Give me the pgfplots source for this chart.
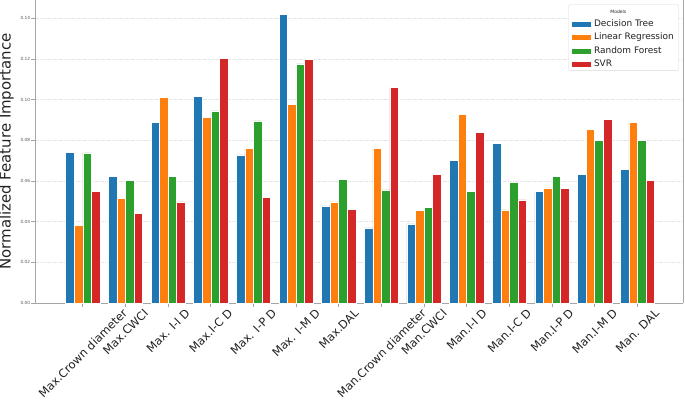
\documentclass[border=0pt]{standalone}
\usepackage{fontspec}
\setmainfont{DejaVu Sans}
\usepackage{graphicx}
\usepackage{pgfplots}
\usepackage{pgfplotstable}
\pgfplotsset{compat=1.18}

\definecolor{tabblue}{HTML}{1F77B4}
\definecolor{taborange}{HTML}{FF7F0E}
\definecolor{tabgreen}{HTML}{2CA02C}
\definecolor{tabred}{HTML}{D62728}
\definecolor{ticktxt}{HTML}{555555}
\definecolor{labtxt}{HTML}{222222}

\newcommand{\rl}[1]{\rotatebox{45}{#1}}

% feature importance per model, one row per feature
\pgfplotstableread{
x  dt      lr      rf      svr
0  0.0742  0.0380  0.0738  0.0550
1  0.0623  0.0515  0.0604  0.0440
2  0.0887  0.1011  0.0622  0.0497
3  0.1017  0.0913  0.0945  0.1204
4  0.0728  0.0761  0.0896  0.0519
5  0.1418  0.0978  0.1176  0.1197
6  0.0478  0.0497  0.0607  0.0460
7  0.0370  0.0762  0.0556  0.1061
8  0.0389  0.0455  0.0470  0.0633
9  0.0700  0.0927  0.0548  0.0838
10 0.0784  0.0458  0.0592  0.0507
11 0.0548  0.0566  0.0622  0.0563
12 0.0633  0.0855  0.0800  0.0904
13 0.0656  0.0890  0.0800  0.0602
}\imp

\begin{document}
\begin{tikzpicture}
\begin{axis}[
    name=ax,
    scale only axis,
    width=648bp, height=303bp,
    ybar=0pt,
    bar width=0.2,
    xmin=-1.12, xmax=14.07,
    ymin=0, ymax=0.149,
    axis x line*=bottom,
    axis line style={gray!70, line width=0.6bp, -},
    tick style={gray!70, line width=0.6bp},
    tick align=outside,
    major tick length=3.5bp,
    xtick pos=lower, ytick pos=left,
    xtick={0,...,13},
    xticklabels={\rl{Max.Crown diameter},\rl{Max.CWCI},\rl{Max. I-I D},\rl{Max.I-C D},\rl{Max. I-P D},\rl{Max. I-M D},\rl{Max.DAL},\rl{Man.Crown diameter},\rl{Man.CWCI},\rl{Man.I-I D},\rl{Man.I-C D},\rl{Man.I-P D},\rl{Man.I-M D},\rl{Man. DAL}},
    xticklabel style={anchor=north, inner sep=1.5bp, font=\fontsize{11.5}{13}\selectfont, text=labtxt},
    ytick={0,0.02,0.04,0.06,0.08,0.10,0.12,0.14},
    /pgf/number format/fixed,
    /pgf/number format/fixed zerofill,
    /pgf/number format/precision=2,
    /pgf/number format/assume math mode=true,
    yticklabel style={font=\fontsize{4.3}{5}\selectfont, text=ticktxt, inner sep=1.2bp},
    ymajorgrids=true,
    grid style={gray!22, line width=0.4bp, dash pattern=on 1.6bp off 0.8bp},
    ylabel={Normalized Feature Importance},
    ylabel style={at={(axis description cs:0,0.5)}, yshift=21bp, anchor=south, inner sep=0pt, font=\fontsize{15}{17}\selectfont, text=labtxt},
    every axis plot/.append style={draw=white, line width=0.5bp},
    legend image code/.code={\path[#1, sharp corners] (0bp,-3bp) rectangle (20bp,3bp);},
    legend cell align=left,
    legend style={at={(rel axis cs:0.9938,0.9858)}, anchor=north east,
        draw=gray!30, rounded corners=1.5bp, fill=white,
        font=\fontsize{9}{10}\selectfont, text=labtxt,
        row sep=4.6bp, inner xsep=2.5bp, inner ysep=2bp,
        nodes={text height=6.6bp, text depth=2.1bp, inner ysep=0pt, inner xsep=2.5bp}},
]
\addlegendimage{empty legend}
\addlegendentry{\makebox[48.6bp][c]{\fontsize{4.5}{5}\selectfont Models}}
\addplot[fill=tabblue] table[x=x, y=dt] {\imp};
\addlegendentry{Decision Tree}
\addplot[fill=taborange] table[x=x, y=lr] {\imp};
\addlegendentry{Linear Regression}
\addplot[fill=tabgreen] table[x=x, y=rf] {\imp};
\addlegendentry{Random Forest}
\addplot[fill=tabred] table[x=x, y=svr] {\imp};
\addlegendentry{SVR}
\end{axis}
\pgfresetboundingbox
\path[use as bounding box] ([shift={(-35bp,-101bp)}]ax.south west) rectangle ([shift={(2bp,0bp)}]ax.north east);
\end{tikzpicture}
\end{document}
